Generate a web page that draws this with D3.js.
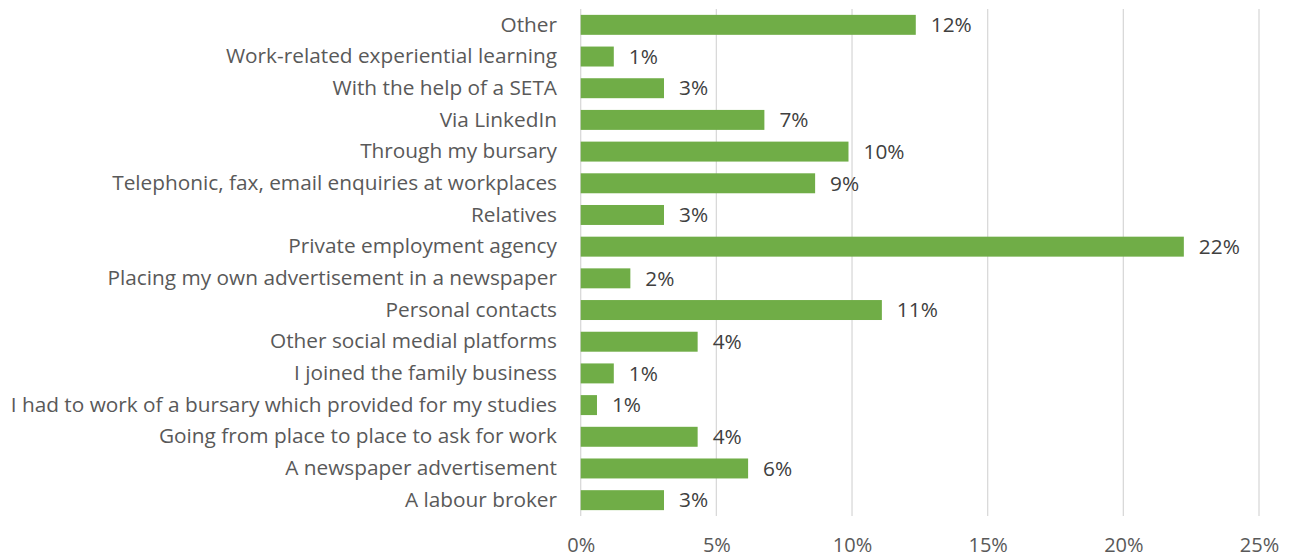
<!DOCTYPE html>
<html><head><meta charset="utf-8">
<script src="https://cdn.jsdelivr.net/npm/d3@7"></script>
<style>
html,body{margin:0;padding:0;background:#fff;}
svg text{font-family:"Open Sans",sans-serif;}
</style></head>
<body><svg id="chart" width="1289" height="558"></svg>
<script>
const categories = [
  "Other",
  "Work-related experiential learning",
  "With the help of a SETA",
  "Via LinkedIn",
  "Through my bursary",
  "Telephonic, fax, email enquiries at workplaces",
  "Relatives",
  "Private employment agency",
  "Placing my own advertisement in a newspaper",
  "Personal contacts",
  "Other social medial platforms",
  "I joined the family business",
  "I had to work of a bursary which provided for my studies",
  "Going from place to place to ask for work",
  "A newspaper advertisement",
  "A labour broker"
];
const values = [12.35, 1.22, 3.07, 6.77, 9.87, 8.64, 3.07, 22.23, 1.83, 11.1, 4.31, 1.22, 0.6, 4.31, 6.17, 3.07];
const valueLabels = ["12%","1%","3%","7%","10%","9%","3%","22%","2%","11%","4%","1%","1%","4%","6%","3%"];
const xTicks = [0, 5, 10, 15, 20, 25];
const tickLabels = ["0%","5%","10%","15%","20%","25%"];

const svg = d3.select("#chart");
const pLeft = 580.7, pRight = 1259, pTop = 9, pBottom = 516;
const FONT = "'Open Sans',sans-serif";
const FS = 20.8;
const x = d3.scaleLinear().domain([0, 25]).range([pLeft, pRight]);
const y = d3.scaleBand().domain(categories).range([pTop, pBottom]).paddingInner(0.37).paddingOuter(0.185);

// gridlines
svg.append("g").selectAll("line").data(xTicks).join("line")
  .attr("x1", d => x(d)).attr("x2", d => x(d))
  .attr("y1", pTop).attr("y2", pBottom)
  .attr("stroke", "#d9d9d9").attr("stroke-width", 1.3);

// x axis labels
const xa = svg.append("g").attr("transform", `translate(0,${551.5})`)
  .call(d3.axisBottom(x).tickValues(xTicks).tickFormat((d,i) => tickLabels[i]).tickSize(0).tickPadding(0));
xa.select(".domain").remove();
xa.selectAll("text").attr("fill", "#595959").attr("font-size", 20).attr("dy", "0").attr("y", 0)
  .attr("font-family", FONT);

// bars
svg.append("g").selectAll("rect").data(categories).join("rect")
  .attr("x", x(0)).attr("y", d => y(d))
  .attr("width", (d,i) => x(values[i]) - x(0))
  .attr("height", y.bandwidth())
  .attr("fill", "#70ad47");

// value labels
svg.append("g").selectAll("text").data(categories).join("text")
  .attr("x", (d,i) => x(values[i]) + 15)
  .attr("y", d => y(d) + y.bandwidth()/2)
  .attr("dy", "0.35em")
  .attr("font-size", FS).attr("fill", "#404040").attr("font-family", FONT)
  .text((d,i) => valueLabels[i]);

// category labels
const ya = svg.append("g").attr("transform", `translate(${557},0)`)
  .call(d3.axisLeft(y).tickSize(0).tickPadding(0));
ya.select(".domain").remove();
ya.selectAll("text").attr("fill", "#595959").attr("font-size", FS)
  .attr("font-family", FONT);
</script></body></html>
